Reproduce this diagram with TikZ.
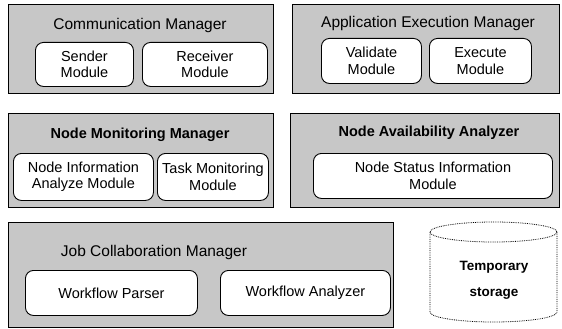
\documentclass[tikz,border=0pt]{standalone}
\usepackage{fontspec}
\setmainfont{Liberation Sans}
\begin{document}
\begin{tikzpicture}[x=1pt,y=-1pt,
  panel/.style={draw=black, line width=1.3pt, fill=black!22, inner sep=0pt, anchor=north west},
  paneltitle/.style={inner sep=0pt, font=\fontsize{15.5}{18}\selectfont},
  boldtitle/.style={inner sep=0pt, font=\fontsize{14.5}{17}\selectfont\bfseries},
  module/.style={draw=black, line width=0.9pt, fill=white, rounded corners=8pt, inner sep=0pt,
    anchor=north west, align=center, font=\fontsize{14.5}{16.5}\selectfont},
  storeline/.style={draw=black, densely dotted, line width=0.8pt},
]
\useasboundingbox (0,0) rectangle (562,329);

% Communication Manager
\node[panel, minimum width=265pt, minimum height=89pt] (comm) at (8,4) {};
\node[paneltitle] (commtitle) at (140,25) {Communication Manager};
\node[module, minimum width=98pt, minimum height=44pt] (sender) at (35,42) {Sender\\Module};
\node[module, minimum width=125pt, minimum height=44pt] (receiver) at (142,42) {Receiver\\Module};

% Application Execution Manager
\node[panel, minimum width=267pt, minimum height=89pt] (app) at (292,4) {};
\node[paneltitle] (apptitle) at (428,23) {Application Execution Manager};
\node[module, minimum width=100pt, minimum height=45pt] (validate) at (321,38) {Validate\\Module};
\node[module, minimum width=102pt, minimum height=45pt] (execute) at (429,38) {Execute\\Module};

% Node Monitoring Manager
\node[panel, minimum width=265pt, minimum height=94pt] (nmm) at (8,113) {};
\node[boldtitle] (nmmtitle) at (140,135) {Node Monitoring Manager};
\node[module, minimum width=140pt, minimum height=47pt] (nodeinfo) at (13,153) {Node Information\\Analyze Module};
\node[module, minimum width=111pt, minimum height=47pt] (taskmon) at (157,153) {Task Monitoring\\Module};

% Node Availability Analyzer
\node[panel, minimum width=269pt, minimum height=94pt] (naa) at (290,113) {};
\node[boldtitle] (naatitle) at (429,133) {Node Availability Analyzer};
\node[module, minimum width=239pt, minimum height=45pt] (nodestatus) at (313,153) {Node Status Information\\Module};

% Job Collaboration Manager
\node[panel, minimum width=385pt, minimum height=105pt] (jcm) at (8,222) {};
\node[paneltitle] (jcmtitle) at (154,252) {Job Collaboration Manager};
\node[module, minimum width=172pt, minimum height=45pt] (parser) at (25,270) {Workflow Parser};
\node[module, minimum width=170pt, minimum height=45pt] (analyzer) at (220,270) {Workflow Analyzer};

% Temporary storage: a cylinder drawn from its body and top ellipse
\fill[white] (430,232) -- (430,312) arc[start angle=180, end angle=0, x radius=63.5, y radius=10]
  -- (557,232) arc[start angle=0, end angle=180, x radius=63.5, y radius=10] -- cycle;
\draw[storeline] (430,232) -- (430,312) arc[start angle=180, end angle=0, x radius=63.5, y radius=10]
  -- (557,232);
\draw[storeline] (493.5,232) ellipse[x radius=63.5, y radius=10];
\node[align=center, inner sep=0pt, font=\fontsize{13.5}{26}\selectfont\bfseries] (storagelabel) at (494,280) {Temporary\\storage};
\end{tikzpicture}
\end{document}
